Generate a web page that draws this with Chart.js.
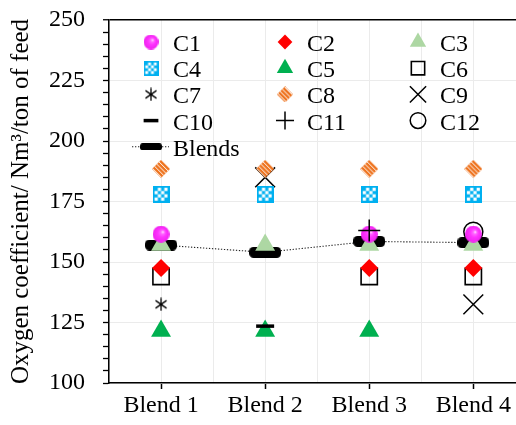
<!DOCTYPE html>
<html><head><meta charset="utf-8">
<script src="https://cdn.jsdelivr.net/npm/chart.js@4"></script>
<style>html,body{margin:0;padding:0;background:#fff}#wrap{width:516px;height:425px}</style>
</head><body><div id="wrap"><canvas id="c" width="516" height="425"></canvas></div>
<script>
// ---- data ----
const categories = ['Blend 1', 'Blend 2', 'Blend 3', 'Blend 4'];
const seriesNames = ['C1','C2','C3','C4','C5','C6','C7','C8','C9','C10','C11','C12','Blends'];
const C1  = [161.5, null, 161.5, 161.5];
const C2  = [147.5, null, 147.5, 147.5];
const C3  = [157, 157, 157, 157];
const C4  = [178, 178, 178, 178];
const C5  = [121.5, 121.5, 121.5, null];
const C6  = [144, null, 144, 144];
const C7  = [132.5, null, null, null];
const C8  = [188.5, 188.5, 188.5, 188.5];
const C9  = [null, 185, null, 132.5];
const C10 = [null, 123.5, null, null];
const C11 = [null, null, 163, null];
const C12 = [null, null, null, 162.5];
const Blends = [157, 154, 158.5, 158];
const yMajorTicks = [100, 125, 150, 175, 200, 225, 250];
const yTitle = 'Oxygen coefficient/ Nm\u00B3/ton of feed';

const FONT = '"Liberation Serif", "Times New Roman", serif';

// ---- marker images ----
function mk(w, h, fn) { const c = document.createElement('canvas'); c.width = w; c.height = h; fn(c.getContext('2d'), w, h); return c; }
function sphere(d) {
  return mk(d, d, (g, w, h) => {
    const gr = g.createRadialGradient(w*0.62, h*0.36, 0, w*0.5, h*0.5, w*0.5);
    gr.addColorStop(0, '#FFE6FF'); gr.addColorStop(0.22, '#FF66FF'); gr.addColorStop(0.5, '#FF33FF'); gr.addColorStop(1, '#EE22EE');
    g.fillStyle = gr; g.beginPath(); g.arc(w/2, h/2, w/2, 0, Math.PI*2); g.fill();
  });
}
function checker(s) {
  return mk(s, s, (g, w, h) => {
    g.fillStyle = '#00B0F0'; g.fillRect(0, 0, w, h);
    const b = Math.max(1.5, s*0.12), inner = s - 2*b, n = 4, cs = inner/n;
    g.fillStyle = '#FFFFFF';
    for (let i = 0; i < n; i++) for (let j = 0; j < n; j++) if ((i + j) % 2 === 1) g.fillRect(b + i*cs, b + j*cs, cs, cs);
  });
}
function asterisk(s) {
  return mk(s, s, (g, w, h) => {
    g.strokeStyle = '#000'; g.lineWidth = 1.3; g.beginPath();
    const cx = w/2, cy = h/2, r = w/2 - 0.5;
    g.moveTo(cx, cy - r); g.lineTo(cx, cy + r);
    g.moveTo(cx - r*0.85, cy - r*0.6); g.lineTo(cx + r*0.85, cy + r*0.6);
    g.moveTo(cx - r*0.85, cy + r*0.6); g.lineTo(cx + r*0.85, cy - r*0.6);
    g.stroke();
  });
}
function hatchDiamond(s) {
  return mk(s, s, (g, w, h) => {
    g.beginPath(); g.moveTo(w/2, 0); g.lineTo(w, h/2); g.lineTo(w/2, h); g.lineTo(0, h/2); g.closePath();
    g.fillStyle = '#EE7420'; g.fill(); g.save(); g.clip();
    g.strokeStyle = '#FFFFFF'; g.lineWidth = 1; g.beginPath();
    for (let k = -w + 1; k < 2*w; k += 4.4) { g.moveTo(k, 0); g.lineTo(k + h, h); }
    g.stroke(); g.restore();
  });
}
function pill(w0, h0) {
  return mk(w0, h0, (g, w, h) => {
    g.fillStyle = '#000'; g.beginPath();
    if (g.roundRect) g.roundRect(0, 0, w, h, h*0.4); else g.rect(0, 0, w, h);
    g.fill();
  });
}
const IMG = {
  C1: sphere(17), C4: checker(17), C7: asterisk(14), C8: hatchDiamond(18), Blends: pill(32, 11)
};
const LIMG = {
  C1: sphere(15), C4: checker(15), C7: asterisk(14), C8: hatchDiamond(16), Blends: pill(22, 7)
};

const STYLE = {
  C1:  {pointStyle: IMG.C1, radius: 8, bg: '#FF33FF', bc: '#FF33FF', bw: 0},
  C2:  {pointStyle: 'rectRot', radius: 9, bg: '#FF0000', bc: '#FF0000', bw: 0},
  C3:  {pointStyle: 'triangle', radius: 11.5, bg: '#ADD7A3', bc: '#ADD7A3', bw: 0},
  C4:  {pointStyle: IMG.C4, radius: 8, bg: '#00B0F0', bc: '#00B0F0', bw: 0},
  C5:  {pointStyle: 'triangle', radius: 11.5, bg: '#00B050', bc: '#00B050', bw: 0},
  C6:  {pointStyle: 'rect', radius: 11.5, bg: 'rgba(0,0,0,0)', bc: '#000', bw: 1.6},
  C7:  {pointStyle: IMG.C7, radius: 7, bg: '#000', bc: '#000', bw: 0},
  C8:  {pointStyle: IMG.C8, radius: 9, bg: '#EE7420', bc: '#EE7420', bw: 0},
  C9:  {pointStyle: 'crossRot', radius: 14, bg: '#000', bc: '#000', bw: 1.5},
  C10: {pointStyle: 'line', radius: 9, bg: '#000', bc: '#000', bw: 3.5},
  C11: {pointStyle: 'cross', radius: 11, bg: '#000', bc: '#000', bw: 1.5},
  C12: {pointStyle: 'circle', radius: 9.5, bg: 'rgba(0,0,0,0)', bc: '#000', bw: 1.5},
  Blends: {pointStyle: IMG.Blends, radius: 8, bg: '#000', bc: '#000', bw: 0}
};
const VALUES = {C1, C2, C3, C4, C5, C6, C7, C8, C9, C10, C11, C12, Blends};
const ORDER = {C10: -2, C11: -2};

const datasets = seriesNames.map((name, idx) => {
  const s = STYLE[name];
  const pts = VALUES[name].map((v, i) => ({x: i + 1, y: v})).filter(p => p.y !== null);
  const ds = {
    label: name, data: pts, order: (ORDER[name] !== undefined ? ORDER[name] : idx),
    pointStyle: s.pointStyle, pointRadius: s.radius, pointBackgroundColor: s.bg,
    pointBorderColor: s.bc, pointBorderWidth: s.bw, showLine: false,
    backgroundColor: s.bg, borderColor: s.bc
  };
  if (name === 'Blends') {
    ds.showLine = true; ds.borderColor = '#222'; ds.borderWidth = 1.1; ds.borderDash = [1.3, 1.7];
  }
  return ds;
});

// ---- legend drawn inside the plot area ----
const legendCols = [42, 176, 309];
const legendRowTop = 22, legendRowStep = 26.2;
const legendPlugin = {
  id: 'innerLegend',
  afterDraw(chart) {
    const ctx = chart.ctx, a = chart.chartArea;
    ctx.save();
    ctx.font = '24px ' + FONT; ctx.fillStyle = '#000'; ctx.textBaseline = 'alphabetic'; ctx.textAlign = 'left';
    seriesNames.forEach((name, i) => {
      const col = name === 'Blends' ? 0 : i % 3, row = name === 'Blends' ? 4 : Math.floor(i / 3);
      const mx = a.left + legendCols[col], my = a.top + legendRowTop + row * legendRowStep;
      const s = STYLE[name];
      if (name === 'Blends') {
        ctx.save(); ctx.strokeStyle = '#222'; ctx.lineWidth = 1.1; ctx.setLineDash([1.3, 1.7]);
        ctx.beginPath(); ctx.moveTo(mx - 19, my); ctx.lineTo(mx + 18, my); ctx.stroke(); ctx.restore();
      }
      if (LIMG[name]) {
        const im = LIMG[name];
        ctx.drawImage(im, mx - im.width/2, my - im.height/2);
      } else {
        ctx.save();
        ctx.fillStyle = s.bg; ctx.strokeStyle = s.bc; ctx.lineWidth = s.bw; ctx.setLineDash([]);
        Chart.helpers.drawPoint(ctx, {pointStyle: s.pointStyle, radius: s.radius * 0.82, borderWidth: s.bw, rotation: 0}, mx, my);
        ctx.restore();
      }
      ctx.fillStyle = '#000';
      ctx.fillText(name, mx + 22, my + 9);
    });
    ctx.restore();
  }
};

new Chart(document.getElementById('c'), {
  type: 'scatter',
  data: {datasets},
  plugins: [legendPlugin],
  options: {
    responsive: false, animation: false, devicePixelRatio: 1,
    layout: {autoPadding: false, padding: {left: 4, top: 20, right: 0, bottom: 0}},
    plugins: {legend: {display: false}, tooltip: {enabled: false}},
    scales: {
      x: {
        type: 'linear', min: 0.5, max: 4.41,
        afterBuildTicks: (sc) => { const t = []; for (let v = 0.5; v <= 4.001; v += 0.5) t.push({value: v}); sc.ticks = t; },
        afterFit: (sc) => { sc.height = 42; sc.paddingLeft = 0; sc.paddingRight = 0; },
        ticks: {
          autoSkip: false, maxRotation: 0, padding: 2, color: '#000',
          font: {family: FONT, size: 24},
          callback: (v) => Number.isInteger(v) ? categories[v - 1] : ''
        },
        grid: {
          color: '#ebebeb', lineWidth: 1, tickLength: 6, tickWidth: 1.5,
          tickColor: (c) => (c.tick && Number.isInteger(c.tick.value)) ? '#000' : 'rgba(0,0,0,0)'
        },
        border: {color: '#000', width: 1.5}
      },
      y: {
        type: 'linear', min: 100, max: 250,
        afterFit: (sc) => { sc.width = 105; sc.paddingTop = 0; sc.paddingBottom = 0; },
        ticks: {
          stepSize: 5, autoSkip: false, padding: 18, color: '#000',
          font: {family: FONT, size: 24},
          callback: (v) => yMajorTicks.includes(v) ? String(v) : ''
        },
        grid: {
          color: (c) => (c.tick && c.tick.value === 250) ? '#000' : ((c.tick && c.tick.value % 25 === 0) ? '#ebebeb' : 'rgba(0,0,0,0)'),
          lineWidth: (c) => (c.tick && c.tick.value === 250) ? 1.5 : 1,
          tickLength: 6, tickWidth: 1.3, tickColor: '#000'
        },
        border: {color: '#000', width: 1.5},
        title: {display: true, text: yTitle, color: '#000', font: {family: FONT, size: 25}, padding: {top: 2, bottom: 0}}
      }
    }
  }
});
</script>
</body></html>
